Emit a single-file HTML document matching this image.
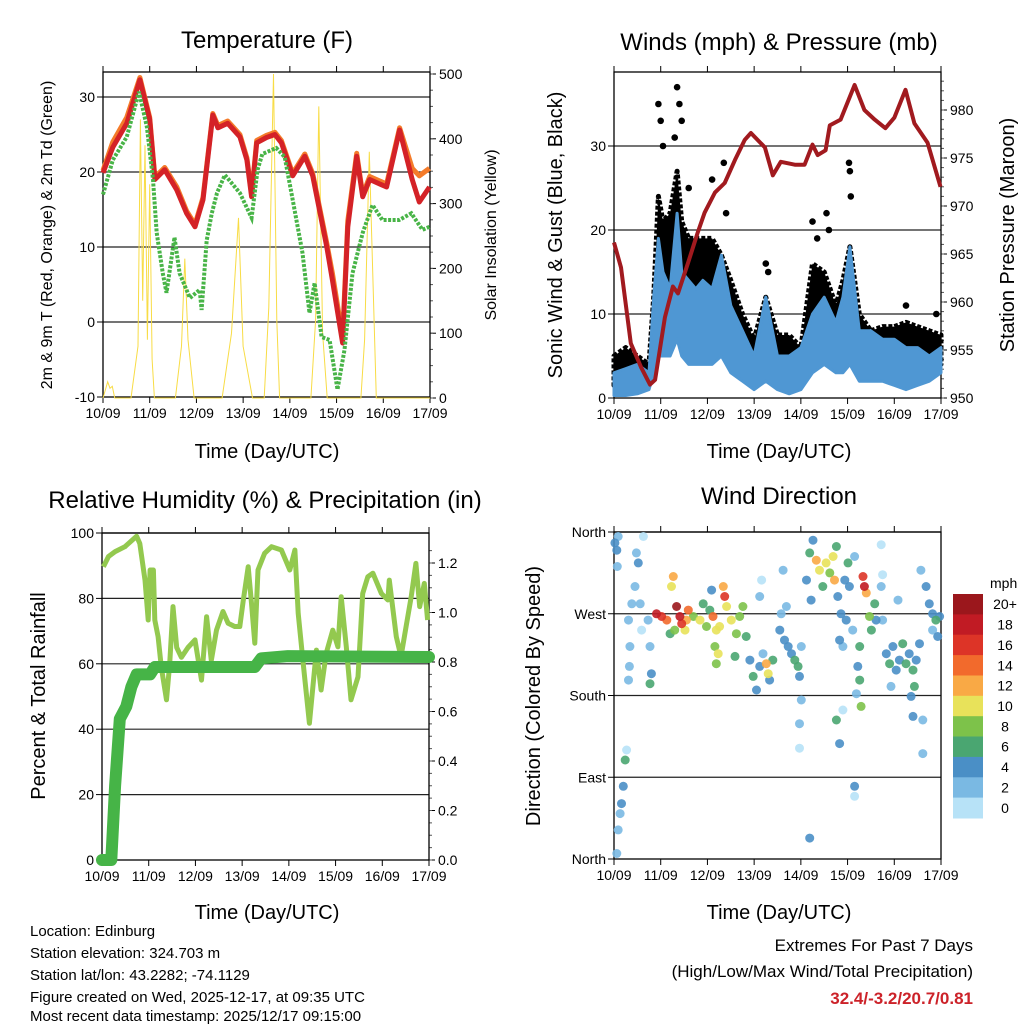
<!DOCTYPE html>
<html><head><meta charset="utf-8"><style>
body{margin:0;background:#fff;}
svg{display:block;font-family:"Liberation Sans",sans-serif;}
</style></head><body>
<svg id="c" width="1024" height="1024" viewBox="0 0 1024 1024" xmlns="http://www.w3.org/2000/svg">
<rect width="1024" height="1024" fill="#fff"/>
<g id="g"></g>
<text x="267" y="48" font-size="24" text-anchor="middle">Temperature (F)</text>
<text x="779" y="50" font-size="24" text-anchor="middle">Winds (mph) &amp; Pressure (mb)</text>
<text x="265" y="508" font-size="24" text-anchor="middle">Relative Humidity (%) &amp; Precipitation (in)</text>
<text x="779" y="504" font-size="24" text-anchor="middle">Wind Direction</text>
<text x="267" y="458" font-size="20" text-anchor="middle">Time (Day/UTC)</text>
<text x="779" y="458" font-size="20" text-anchor="middle">Time (Day/UTC)</text>
<text x="267" y="919" font-size="20" text-anchor="middle">Time (Day/UTC)</text>
<text x="779" y="919" font-size="20" text-anchor="middle">Time (Day/UTC)</text>
<text transform="translate(52,235) rotate(-90)" font-size="16" text-anchor="middle">2m &amp; 9m T (Red, Orange) &amp; 2m Td (Green)</text>
<text transform="translate(496,235) rotate(-90)" font-size="16" text-anchor="middle">Solar Insolation (Yellow)</text>
<text transform="translate(562,235) rotate(-90)" font-size="20" text-anchor="middle">Sonic Wind &amp; Gust (Blue, Black)</text>
<text transform="translate(1014,235) rotate(-90)" font-size="20" text-anchor="middle">Station Pressure (Maroon)</text>
<text transform="translate(45,696) rotate(-90)" font-size="20" text-anchor="middle">Percent &amp; Total Rainfall</text>
<text transform="translate(540,696) rotate(-90)" font-size="20" text-anchor="middle">Direction (Colored By Speed)</text>
<g font-size="15">
<text x="30" y="936">Location: Edinburg</text>
<text x="30" y="958">Station elevation: 324.703 m</text>
<text x="30" y="980">Station lat/lon: 43.2282; -74.1129</text>
<text x="30" y="1002">Figure created on Wed, 2025-12-17, at 09:35 UTC</text>
<text x="30" y="1024" dy="-3">Most recent data timestamp: 2025/12/17 09:15:00</text>
</g>
<g font-size="17" text-anchor="end">
<text x="973" y="951">Extremes For Past 7 Days</text>
<text x="973" y="977">(High/Low/Max Wind/Total Precipitation)</text>
<text x="973" y="1004" fill="#cc2229" font-weight="bold">32.4/-3.2/20.7/0.81</text>
</g>
</svg>
<script>
// ---------- data ----------
const dayLabels=["10/09","11/09","12/09","13/09","14/09","15/09","16/09","17/09"];
const tDays=[0,0.21,0.51,0.79,1.0,1.11,1.32,1.58,1.79,1.97,2.14,2.35,2.46,2.67,2.93,3.08,3.18,3.29,3.5,3.68,3.82,4.06,4.32,4.49,4.79,4.91,5.13,5.24,5.43,5.56,5.71,6.07,6.35,6.62,6.77,6.99];
const tRed=[19.9,23.3,26.5,32.3,27,19,20.3,17.6,14.5,12.7,16.3,27.6,25.9,26.5,24.7,21.6,16.7,23.9,24.6,25,23.9,19.5,22.1,19.5,10,5.6,-2.8,12.7,22.1,16.7,19,18,25.6,19,16,18];
const tOrange=[20.2,24,27.3,32.6,27.3,19.3,20.6,18,14.8,13,16.6,27.8,26.2,26.8,25,21.9,17,24.2,24.9,25.3,24.2,19.8,22.4,19.8,10.5,6.5,-2,13.5,22.5,17,19.4,18.4,25.9,20.5,19.5,20.5];
const tdDays=[0,0.21,0.51,0.77,0.94,1.07,1.15,1.28,1.36,1.53,1.64,1.86,2.07,2.11,2.22,2.33,2.44,2.61,2.93,3.18,3.31,3.41,3.71,3.89,4.06,4.27,4.42,4.53,4.68,4.85,5.02,5.17,5.34,5.56,5.77,5.98,6.34,6.6,6.84,6.99];
const tdVals=[17,21.6,24.7,30.7,26,19,11.9,6.5,3.9,11.3,6.5,3.2,4.3,1.6,10.9,14.5,17.2,19.6,17.2,13.9,20.3,22.4,23.2,22,16.3,9.2,1.2,5.2,-2,-2.4,-9,-3.7,6.5,11.9,15.6,13.6,13.6,14.5,12.3,12.7];
const solarDays=[0,0.1,0.15,0.2,0.25,0.6,0.75,0.8,0.85,0.9,0.95,1.0,1.05,1.1,1.3,1.55,1.68,1.75,1.82,1.95,2.3,2.55,2.75,2.9,3.0,3.2,3.3,3.45,3.55,3.65,3.72,3.78,4.0,4.25,4.45,4.55,4.62,4.7,4.8,5.0,5.3,5.52,5.6,5.7,5.85,6.3,6.5,6.6,6.7,6.8,7.0];
const solarVals=[0,25,15,18,0,0,80,430,150,390,90,330,60,0,0,0,80,215,90,0,0,0,100,278,80,0,0,0,140,500,120,0,0,0,0,120,450,100,0,0,0,0,90,380,0,0,0,0,0,0,0];
const pDays=[0,0.15,0.36,0.58,0.77,0.88,1.09,1.26,1.37,1.58,1.79,1.94,2.16,2.37,2.59,2.8,2.93,3.23,3.4,3.57,3.87,4.08,4.25,4.36,4.53,4.62,4.85,5.15,5.36,5.58,5.81,6.0,6.24,6.43,6.71,6.99];
const pVals=[966.2,963.6,955.7,953.2,951.4,951.9,958.4,961.6,960.9,964,967.2,969.3,971.4,972.4,974.8,976.9,977.6,976.1,973.2,974.6,974.3,974.3,976.4,975.3,975.8,978.4,979,982.6,980,979,978.1,979.2,982.1,978.6,976.6,972];
const wDays=[0,0.25,0.5,0.75,0.85,0.95,1.05,1.2,1.35,1.45,1.6,1.75,1.9,2.1,2.3,2.5,2.75,3.0,3.25,3.5,3.75,4.0,4.25,4.5,4.75,4.9,5.05,5.25,5.5,5.75,6.0,6.25,6.5,6.75,7.0];
const gustHigh=[5,6,5,4,12,24,21,22,27,21,19,19,19,19,17,14,10,7,12,7.5,7.5,6,16,15,11,14,18,10,8,8.5,8.5,9,8.5,8,7.5];
const gustLow=[1.5,2,2,1.5,4,9,9,8,12,9,7,7,7,7,8,5,3,2,4,2,2,2,4,6,4,5,6,3,3,3,3,2.5,3,3,4];
const gustOutDays=[0.95,1.0,1.05,1.3,1.35,1.4,1.45,1.6,2.1,2.35,2.4,3.25,3.3,4.25,4.35,4.55,4.6,5.03,5.05,5.07,6.25,6.9];
const gustOutVals=[35,33,30,31,37,35,33,25,26,28,22,16,15,21,19,22,20,28,27,24,11,10];
const windHigh=[3,3.5,4,3,12,19,15,13,22,15,14,13,14,13,17,11,8,5,12,5,5,6,10,12,9,12,18,8,8,7,7,6,6,5,6];
const windLow=[0.3,0.3,0.5,1,3,5,5,5,7,5,4,4,4,4,5,3,2,1,2,1,0.5,1,3,4,3,3,4,2,2,2,1.5,1,1.5,2,3];
const rhDays=[0.03,0.14,0.28,0.49,0.74,0.81,0.92,0.99,1.03,1.1,1.13,1.2,1.27,1.38,1.45,1.52,1.6,1.7,1.84,1.99,2.13,2.24,2.34,2.45,2.59,2.7,2.84,2.95,3.02,3.13,3.2,3.27,3.34,3.48,3.63,3.84,4.02,4.13,4.2,4.3,4.44,4.59,4.69,4.8,4.94,5.05,5.12,5.23,5.33,5.48,5.58,5.69,5.8,5.98,6.12,6.15,6.3,6.4,6.51,6.62,6.72,6.8,6.9,6.97];
const rhVals=[89.7,92.8,94.3,95.8,99,96.8,85.6,73.4,88.7,88.7,73.4,68.3,59,49,60,77.5,65,62,65,67.3,55,74.4,61,70.3,76,72.4,71.4,71.4,79,89.7,78.5,66.3,88.7,93.8,95.8,94.8,88.7,94.8,75.4,61,41.8,64.2,52,63.2,70.3,65.2,80.5,65.2,49,56,81.5,86.6,87.7,81.5,79.5,85.6,68.3,62.2,71.4,80.5,90.7,77.5,84.6,73.4];
const prDays=[0,0.2,0.28,0.38,0.52,0.63,0.74,1.03,1.13,3.27,3.41,3.98,7];
const prVals=[0,0,0.3,0.57,0.62,0.7,0.75,0.75,0.78,0.78,0.815,0.824,0.82];
const dirDays=[0.02,0.06,0.09,0.07,0.24,0.2,0.16,0.13,0.09,0.06,0.27,0.31,0.34,0.31,0.38,0.33,0.48,0.52,0.45,0.56,0.63,0.59,0.77,0.8,0.77,0.73,0.91,1.02,1.13,1.23,1.27,1.34,1.41,1.45,1.3,1.2,1.55,1.59,1.52,1.7,1.84,1.91,1.98,2.05,2.12,2.19,2.16,2.09,2.34,2.37,2.41,2.26,2.23,2.19,2.51,2.62,2.69,2.76,2.59,2.83,2.91,2.98,3.05,3.12,3.26,3.3,3.19,3.33,3.4,3.16,3.12,3.55,3.65,3.73,3.8,3.87,3.94,4.01,3.97,3.58,3.62,3.69,3.97,3.97,4.01,4.12,4.19,4.26,4.33,4.4,4.47,4.54,4.62,4.69,4.72,4.76,4.22,4.79,4.86,4.94,5.01,5.04,4.83,4.9,4.97,5.15,5.11,4.76,4.83,4.9,5.33,5.36,5.4,5.47,5.26,5.22,5.26,5.29,5.19,5.51,5.58,5.61,5.15,5.15,4.19,5.72,5.75,5.83,5.9,5.97,6.04,6.11,6.18,6.25,6.32,6.4,6.43,6.47,6.54,5.93,6.36,6.4,6.61,6.61,6.57,6.68,6.75,6.82,6.89,6.97,6.82,6.93,6.08,5.72,5.75];
const dirDegs=[348,340,355,322,109,80,61,50,32,6,120,263,234,197,281,212,337,326,300,281,355,252,234,204,193,263,270,267,263,300,311,278,267,259,252,248,263,274,252,267,263,281,256,274,267,252,234,296,300,289,278,256,226,215,263,248,267,278,223,245,219,201,186,212,215,204,226,197,219,307,289,252,241,234,226,219,212,234,201,270,318,278,149,122,175,307,337,351,329,318,300,326,315,333,307,344,285,289,270,307,326,300,241,234,263,333,252,153,127,164,311,300,293,267,234,212,197,168,182,252,281,263,80,69,23,300,263,226,215,234,208,219,237,215,226,208,190,219,237,190,179,157,153,116,318,300,281,270,263,267,252,245,285,346,313];
const dirSpeeds=[4,4,2,2,6,4,4,2,2,2,0,2,2,2,2,2,2,4,2,2,0,0,2,4,6,2,18,16,14,10,12,20,18,16,8,6,12,14,10,8,10,6,8,6,14,10,8,4,12,16,10,10,10,8,10,8,8,8,6,6,4,6,4,4,12,10,2,4,6,0,2,4,4,4,4,6,6,2,4,2,2,2,2,0,2,4,6,4,12,10,6,10,8,10,12,6,4,4,4,4,6,4,4,2,4,2,2,6,4,0,16,18,12,8,6,4,6,8,2,6,6,4,4,0,4,2,2,4,6,4,4,4,6,6,4,6,6,4,4,2,4,4,2,2,2,4,4,4,6,4,2,4,2,0,0];
const cbLabels=["20+","18","16","14","12","10","8","6","4","2","0"];
const cbColors=["#9b171c","#c11b24","#dd3427","#f26a2c","#f9a945","#e8e25a","#7dc24a","#4aa671","#4a8fc6","#7ab9e3","#b7e2f7"];
// ---------- helpers ----------
const NS="http://www.w3.org/2000/svg";
const G=document.getElementById('g');
function el(tag,attrs,parent){const e=document.createElementNS(NS,tag);for(const k in attrs)e.setAttribute(k,attrs[k]);(parent||G).appendChild(e);return e;}
function txt(x,y,s,size,anchor,parent){const t=el('text',{x:x,y:y,'font-size':size,'text-anchor':anchor},parent);t.textContent=s;return t;}
function lin(d0,d1,r0,r1){return v=>r0+(v-d0)/(d1-d0)*(r1-r0);}
function pathD(xs,ys,fx,fy){return xs.map((d,i)=>(i?'L':'M')+fx(d).toFixed(1)+','+fy(ys[i]).toFixed(1)).join('');}
function band(xs,lo,hi,fx,fy){let s=xs.map((d,i)=>(i?'L':'M')+fx(d).toFixed(1)+','+fy(hi[i]).toFixed(1)).join('');for(let i=xs.length-1;i>=0;i--)s+='L'+fx(xs[i]).toFixed(1)+','+fy(lo[i]).toFixed(1);return s+'Z';}
function frame(x0,x1,y0,y1,name,leftTicks,fy,leftFmt,rightTicks,fyR,rightFmt,minorR){
  const g=el('g',{});
  
  
  leftTicks.forEach((v,i)=>{const y=fy(v);
    if(i>0&&i<leftTicks.length)el('line',{x1:x0,x2:x1,y1:y,y2:y,stroke:'#222','stroke-width':1.2},g);
    el('line',{x1:x0-6,x2:x0,y1:y,y2:y,stroke:'#000'},g);
    txt(x0-8,y+5,leftFmt(v),14,'end',g);});
  if(rightTicks){rightTicks.forEach(v=>{const y=fyR(v);el('line',{x1:x1,x2:x1+6,y1:y,y2:y,stroke:'#000'},g);txt(x1+9,y+5,rightFmt(v),14,'start',g);});
    (minorR||[]).forEach(v=>{const y=fyR(v);el('line',{x1:x1,x2:x1+3,y1:y,y2:y,stroke:'#555'},g);});}
  const fx=lin(0,7,x0,x1);
  dayLabels.forEach((s,i)=>{const x=fx(i);el('line',{x1:x,x2:x,y1:y1,y2:y1+6,stroke:'#000'},g);el('line',{x1:x,x2:x,y1:y0-6,y2:y0,stroke:'#000'},g);txt(x,y1+21,s,14,'middle',g);});
  el('rect',{x:x0,y:y0,width:x1-x0,height:y1-y0,fill:'none',stroke:'#000','stroke-width':1.3},g);
  return fx;}
// ---------- panel 1: temperature ----------
(function(){
  const x0=103,x1=430,y0=72,y1=397;
  const fy=lin(-10,30,397,97), fyS=lin(0,500,398,74);
  const minor=[];for(let v=0;v<=500;v+=25)minor.push(v);
  const fx=frame(x0,x1,y0,y1,'temperature-panel',[-10,0,10,20,30],fy,v=>v,[0,100,200,300,400,500],fyS,v=>v,minor);
  const s=el('path',{d:pathD(solarDays,solarVals,fx,fyS),fill:'none',stroke:'#f8dc45','stroke-width':1});
  
  
  const o=el('path',{d:pathD(tDays,tOrange,fx,fy),fill:'none',stroke:'#f47b2a','stroke-width':5,'stroke-linejoin':'round'});
  
  
  const r=el('path',{d:pathD(tDays,tRed,fx,fy),fill:'none',stroke:'#d42227','stroke-width':5,'stroke-linejoin':'round'});
  
  
  const d=el('path',{d:pathD(tdDays,tdVals,fx,fy),fill:'none',stroke:'#48b447','stroke-width':4,'stroke-dasharray':'3 1.5'});
  
  
})();
// ---------- panel 2: winds ----------
(function(){
  const x0=614,x1=941,y0=72,y1=398;
  const fy=lin(0,10,398,314), fyP=lin(950,980,398,110);
  const minor=[];for(let v=950;v<=983;v+=1)minor.push(v);
  const fx=frame(x0,x1,y0,y1,'winds-panel',[0,10,20,30],fy,v=>v,[950,955,960,965,970,975,980],fyP,v=>v,minor);
  const gb=el('path',{d:band(wDays,gustLow,gustHigh,fx,fy),fill:'#000',stroke:'#000','stroke-width':5,'stroke-linejoin':'round','stroke-dasharray':'4 2'});
  
  
  const og=el('g',{});
  
  
  gustOutDays.forEach((d,i)=>{const c=el('circle',{cx:fx(d).toFixed(1),cy:fy(gustOutVals[i]).toFixed(1),r:3.3,fill:'#000'},og);
    
    });
  const wb=el('path',{d:band(wDays,windLow,windHigh,fx,fy),fill:'#4f97d3',stroke:'#4f97d3','stroke-width':3,'stroke-linejoin':'round'});
  
  
  const p=el('path',{d:pathD(pDays,pVals,fx,fyP),fill:'none',stroke:'#a11a1f','stroke-width':4,'stroke-linejoin':'round'});
  
  
})();
// ---------- panel 3: humidity ----------
(function(){
  const x0=102,x1=429,y0=533,y1=860;
  const fy=lin(0,100,860,533), fyR=lin(0,1.2,860,563);
  const minor=[];for(let v=0;v<=1.3;v+=0.05)minor.push(v);
  const fx=frame(x0,x1,y0,y1,'humidity-panel',[0,20,40,60,80,100],fy,v=>v,[0,0.2,0.4,0.6,0.8,1.0,1.2],fyR,v=>v.toFixed(1),minor);
  const h=el('path',{d:pathD(rhDays,rhVals,fx,fy),fill:'none',stroke:'#93c94f','stroke-width':5,'stroke-linejoin':'round'});
  
  
  const p=el('path',{d:pathD(prDays,prVals,fx,fyR),fill:'none',stroke:'#46b447','stroke-width':12,'stroke-linejoin':'round','stroke-linecap':'round'});
  
  
})();
// ---------- panel 4: wind direction ----------
(function(){
  const x0=614,x1=941,y0=532,y1=859;
  const fy=lin(0,360,859,532);
  const names={0:'North',90:'East',180:'South',270:'West',360:'North'};
  const fx=frame(x0,x1,y0,y1,'direction-panel',[0,90,180,270,360],fy,v=>names[v],null);
  const cg=el('g',{});
  
  
  const order=dirSpeeds.map((s,i)=>i).sort((a,b)=>dirSpeeds[a]-dirSpeeds[b]);
  order.forEach(i=>{const k=Math.max(0,Math.min(10,10-Math.floor(dirSpeeds[i]/2)));
    const c=el('circle',{cx:fx(dirDays[i]).toFixed(1),cy:fy(dirDegs[i]).toFixed(1),r:4.5,fill:cbColors[k],'fill-opacity':0.9},cg);
    
    });
  const lg=el('g',{});
  
  
  txt(990,588,'mph',14,'start',lg);
  const h=224/cbColors.length;
  cbColors.forEach((c,i)=>{const r=el('rect',{x:953,y:(594+i*h).toFixed(1),width:30,height:(h+0.5).toFixed(1),fill:c},lg);
    
    
    txt(1005,594+i*h+h/2+5,cbLabels[i],14,'middle',lg);});
})();
</script>
</body></html>
